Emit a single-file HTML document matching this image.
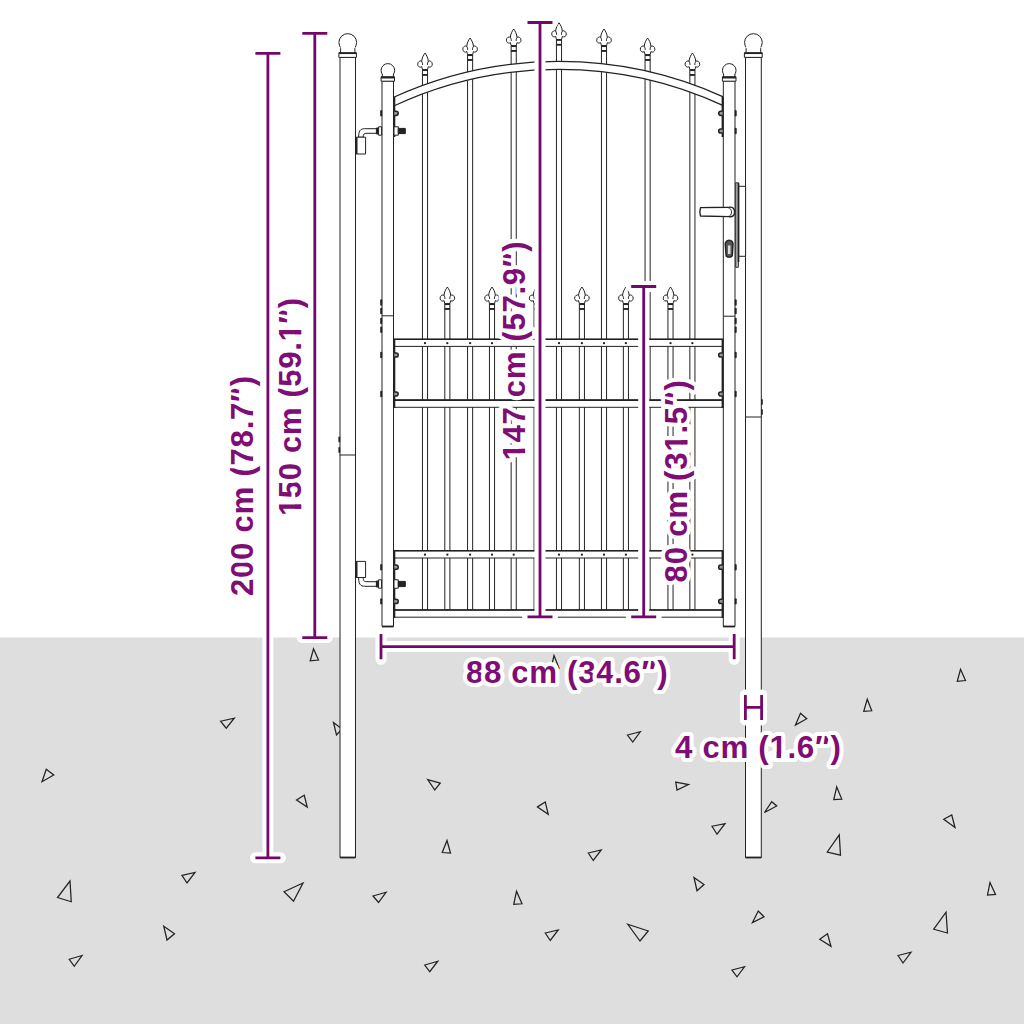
<!DOCTYPE html>
<html><head><meta charset="utf-8"><title>Gate dimensions</title>
<style>
html,body{margin:0;padding:0;background:#fff;}
body{width:1024px;height:1024px;overflow:hidden;font-family:"Liberation Sans",sans-serif;}
svg{display:block;}
</style></head><body>
<svg width="1024" height="1024" viewBox="0 0 1024 1024">
<rect x="0" y="0" width="1024" height="1024" fill="#fff"/>
<rect x="0" y="637.5" width="1024" height="386.5" fill="#dedede"/>
<g fill="none" stroke="#222" stroke-width="1.25" stroke-linejoin="miter"><polygon points="313.5,648.75 318.5,660 310.25,660.75"/><polygon points="220.5,721.25 234.25,718.25 226.25,728.25"/><polygon points="46.25,769.25 53.75,775 42,781.75"/><polygon points="333.5,722.5 342,729 336.5,735"/><polygon points="296.5,800 304.25,795.25 307.25,807"/><polygon points="427.75,779.6 440.25,783.2 434.75,790"/><polygon points="447,840.5 450.5,853 442.25,852.5"/><polygon points="182,875.3 195,872.5 187,883"/><polygon points="70,881 71.25,901.75 57.5,897.5"/><polygon points="284,891.75 303,883 293.5,901.25"/><polygon points="373,896 386,892.25 378.5,902.5"/><polygon points="163.75,926.25 174.5,933.75 167,940"/><polygon points="69.25,959.25 82,955.5 74.25,966.25"/><polygon points="424.75,965 437.75,961.25 429.75,971.75"/><polygon points="554,655.5 559,668 551,668"/><polygon points="960.5,669.25 965.5,680.5 957.25,681.25"/><polygon points="867.25,699.25 871.75,710.75 863.75,711.25"/><polygon points="795.5,725 800.5,713.25 806.75,718.75"/><polygon points="627.5,735 640.25,731.75 632.75,742"/><polygon points="675.75,782.1 688.5,784.6 677,790"/><polygon points="836.75,786.9 841.75,799.1 833.75,799.6"/><polygon points="537.5,806.9 545.25,801.9 548.25,814.25"/><polygon points="764.5,812.5 771.75,801.75 776.75,806"/><polygon points="943.75,819.25 951.75,815 955,827.5"/><polygon points="712,826.25 725,823.6 717,834.25"/><polygon points="839.25,834.9 840.5,855.2 827.25,852"/><polygon points="588.25,853 601.25,849.9 593.25,860.5"/><polygon points="694,877.5 704,884.5 697,890.75"/><polygon points="516.5,891.25 522,903.75 513.75,904.25"/><polygon points="990,882.5 995.5,894.4 987.5,895"/><polygon points="752.5,922.5 758.25,911 764,916.75"/><polygon points="946,912.25 947.5,933 933.75,929.25"/><polygon points="545.25,933 558.25,930 550.25,940.5"/><polygon points="627.75,924.25 648.25,931 640,941"/><polygon points="819.75,939.25 827.5,933.75 831,946.25"/><polygon points="898,955.5 911,952.25 903,963"/><polygon points="732,970 744.5,966.75 737,976.75"/></g>
<g fill="#fff" stroke="#222" stroke-width="1.0" stroke-linejoin="round" stroke-linecap="butt">
<rect x="340.0" y="57" width="15.5" height="800.5"/>
<line x1="340.0" y1="857.5" x2="355.5" y2="857.5" stroke-width="1.8"/>
<circle cx="347.75" cy="42.5" r="8.85"/>
<rect x="340.6" y="47" width="14.3" height="6" stroke="none"/>
<path d="M340.6,48.2 V52.8 M354.9,48.2 V52.8" fill="none"/>
<rect x="338.9" y="52.8" width="17.5" height="4.6"/>
<line x1="338.9" y1="53.2" x2="356.4" y2="53.2" stroke-width="1.7"/>
<rect x="745.5" y="57" width="15.799999999999955" height="800.5"/>
<line x1="745.5" y1="857.5" x2="761.3" y2="857.5" stroke-width="1.8"/>
<circle cx="753.4" cy="42.5" r="8.85"/>
<rect x="746.1" y="47" width="14.599999999999955" height="6" stroke="none"/>
<path d="M746.1,48.2 V52.8 M760.6999999999999,48.2 V52.8" fill="none"/>
<rect x="744.4" y="52.8" width="17.799999999999955" height="4.6"/>
<line x1="744.4" y1="53.2" x2="762.1999999999999" y2="53.2" stroke-width="1.7"/>
<line x1="339.7" y1="455" x2="355.6" y2="455"/>
<line x1="745.6" y1="417" x2="761.4" y2="417"/>
<line x1="339.3" y1="437.4" x2="339.3" y2="441.4" stroke-width="1.8" stroke-linecap="round"/>
<line x1="339.3" y1="448" x2="339.3" y2="452" stroke-width="1.8" stroke-linecap="round"/>
<line x1="761.9" y1="400" x2="761.9" y2="404" stroke-width="1.8" stroke-linecap="round"/>
<line x1="761.9" y1="410" x2="761.9" y2="414" stroke-width="1.8" stroke-linecap="round"/>
<rect x="422.45" y="75" width="5.1" height="535"/>
<path d="M425.0,53 C426.6,55.2 428.2,58.2 428.3,61.3 C429.5,60.3 432.3,61.4 432.3,64.2 C432.3,66.8 429.8,67.8 428.3,66.6 L427.55,69.7 L422.45,69.7 L421.7,66.6 C420.2,67.8 417.7,66.8 417.7,64.2 C417.7,61.4 420.5,60.3 421.7,61.3 C421.8,58.2 423.4,55.2 425.0,53 Z"/>
<path d="M428.3,61.3 C427.7,62.6 427.2,63.8 427.5,65" fill="none"/>
<path d="M421.7,61.3 C422.3,62.6 422.8,63.8 422.5,65" fill="none"/>
<rect x="422.45" y="69.7" width="5.1" height="5.3"/>
<line x1="422.45" y1="70.3" x2="427.55" y2="70.3" stroke-width="1.5"/>
<line x1="422.45" y1="74.8" x2="427.55" y2="74.8" stroke-width="1.5"/>
<rect x="467.55" y="60" width="5.1" height="550"/>
<path d="M470.1,38 C471.70000000000005,40.2 473.3,43.2 473.40000000000003,46.3 C474.6,45.3 477.40000000000003,46.4 477.40000000000003,49.2 C477.40000000000003,51.8 474.90000000000003,52.8 473.40000000000003,51.6 L472.65000000000003,54.7 L467.55,54.7 L466.8,51.6 C465.3,52.8 462.8,51.8 462.8,49.2 C462.8,46.4 465.6,45.3 466.8,46.3 C466.90000000000003,43.2 468.5,40.2 470.1,38 Z"/>
<path d="M473.40000000000003,46.3 C472.8,47.6 472.3,48.8 472.6,50" fill="none"/>
<path d="M466.8,46.3 C467.40000000000003,47.6 467.90000000000003,48.8 467.6,50" fill="none"/>
<rect x="467.55" y="54.7" width="5.1" height="5.3"/>
<line x1="467.55" y1="55.3" x2="472.65000000000003" y2="55.3" stroke-width="1.5"/>
<line x1="467.55" y1="59.8" x2="472.65000000000003" y2="59.8" stroke-width="1.5"/>
<rect x="511.15000000000003" y="51" width="5.1" height="559"/>
<path d="M513.7,29 C515.3000000000001,31.2 516.9000000000001,34.2 517.0,37.3 C518.2,36.3 521.0,37.4 521.0,40.2 C521.0,42.8 518.5,43.8 517.0,42.6 L516.25,45.7 L511.15000000000003,45.7 L510.40000000000003,42.6 C508.90000000000003,43.8 506.40000000000003,42.8 506.40000000000003,40.2 C506.40000000000003,37.4 509.20000000000005,36.3 510.40000000000003,37.3 C510.50000000000006,34.2 512.1,31.2 513.7,29 Z"/>
<path d="M517.0,37.3 C516.4000000000001,38.6 515.9000000000001,39.8 516.2,41" fill="none"/>
<path d="M510.40000000000003,37.3 C511.00000000000006,38.6 511.50000000000006,39.8 511.20000000000005,41" fill="none"/>
<rect x="511.15000000000003" y="45.7" width="5.1" height="5.3"/>
<line x1="511.15000000000003" y1="46.3" x2="516.25" y2="46.3" stroke-width="1.5"/>
<line x1="511.15000000000003" y1="50.8" x2="516.25" y2="50.8" stroke-width="1.5"/>
<rect x="556.45" y="44.8" width="5.1" height="565.2"/>
<path d="M559.0,22.8 C560.6,25.0 562.2,28.0 562.3,31.1 C563.5,30.1 566.3,31.200000000000003 566.3,34.0 C566.3,36.6 563.8,37.6 562.3,36.4 L561.55,39.5 L556.45,39.5 L555.7,36.4 C554.2,37.6 551.7,36.6 551.7,34.0 C551.7,31.200000000000003 554.5,30.1 555.7,31.1 C555.8,28.0 557.4,25.0 559.0,22.8 Z"/>
<path d="M562.3,31.1 C561.7,32.4 561.2,33.6 561.5,34.8" fill="none"/>
<path d="M555.7,31.1 C556.3,32.4 556.8,33.6 556.5,34.8" fill="none"/>
<rect x="556.45" y="39.5" width="5.1" height="5.3"/>
<line x1="556.45" y1="40.1" x2="561.55" y2="40.1" stroke-width="1.5"/>
<line x1="556.45" y1="44.6" x2="561.55" y2="44.6" stroke-width="1.5"/>
<rect x="601.45" y="51" width="5.1" height="559"/>
<path d="M604.0,29 C605.6,31.2 607.2,34.2 607.3,37.3 C608.5,36.3 611.3,37.4 611.3,40.2 C611.3,42.8 608.8,43.8 607.3,42.6 L606.55,45.7 L601.45,45.7 L600.7,42.6 C599.2,43.8 596.7,42.8 596.7,40.2 C596.7,37.4 599.5,36.3 600.7,37.3 C600.8,34.2 602.4,31.2 604.0,29 Z"/>
<path d="M607.3,37.3 C606.7,38.6 606.2,39.8 606.5,41" fill="none"/>
<path d="M600.7,37.3 C601.3,38.6 601.8,39.8 601.5,41" fill="none"/>
<rect x="601.45" y="45.7" width="5.1" height="5.3"/>
<line x1="601.45" y1="46.3" x2="606.55" y2="46.3" stroke-width="1.5"/>
<line x1="601.45" y1="50.8" x2="606.55" y2="50.8" stroke-width="1.5"/>
<rect x="645.0500000000001" y="60" width="5.1" height="550"/>
<path d="M647.6,38 C649.2,40.2 650.8000000000001,43.2 650.9,46.3 C652.1,45.3 654.9,46.4 654.9,49.2 C654.9,51.8 652.4,52.8 650.9,51.6 L650.15,54.7 L645.0500000000001,54.7 L644.3000000000001,51.6 C642.8000000000001,52.8 640.3000000000001,51.8 640.3000000000001,49.2 C640.3000000000001,46.4 643.1,45.3 644.3000000000001,46.3 C644.4,43.2 646.0,40.2 647.6,38 Z"/>
<path d="M650.9,46.3 C650.3000000000001,47.6 649.8000000000001,48.8 650.1,50" fill="none"/>
<path d="M644.3000000000001,46.3 C644.9,47.6 645.4,48.8 645.1,50" fill="none"/>
<rect x="645.0500000000001" y="54.7" width="5.1" height="5.3"/>
<line x1="645.0500000000001" y1="55.3" x2="650.15" y2="55.3" stroke-width="1.5"/>
<line x1="645.0500000000001" y1="59.8" x2="650.15" y2="59.8" stroke-width="1.5"/>
<rect x="689.85" y="75" width="5.1" height="535"/>
<path d="M692.4,53 C694.0,55.2 695.6,58.2 695.6999999999999,61.3 C696.9,60.3 699.6999999999999,61.4 699.6999999999999,64.2 C699.6999999999999,66.8 697.1999999999999,67.8 695.6999999999999,66.6 L694.9499999999999,69.7 L689.85,69.7 L689.1,66.6 C687.6,67.8 685.1,66.8 685.1,64.2 C685.1,61.4 687.9,60.3 689.1,61.3 C689.1999999999999,58.2 690.8,55.2 692.4,53 Z"/>
<path d="M695.6999999999999,61.3 C695.1,62.6 694.6,63.8 694.9,65" fill="none"/>
<path d="M689.1,61.3 C689.6999999999999,62.6 690.1999999999999,63.8 689.9,65" fill="none"/>
<rect x="689.85" y="69.7" width="5.1" height="5.3"/>
<line x1="689.85" y1="70.3" x2="694.9499999999999" y2="70.3" stroke-width="1.5"/>
<line x1="689.85" y1="74.8" x2="694.9499999999999" y2="74.8" stroke-width="1.5"/>
<rect x="444.8" y="309" width="5.1" height="301"/>
<path d="M447.35,287 C448.95000000000005,289.2 450.55,292.2 450.65000000000003,295.3 C451.85,294.3 454.65000000000003,295.4 454.65000000000003,298.2 C454.65000000000003,300.8 452.15000000000003,301.8 450.65000000000003,300.6 L449.90000000000003,303.7 L444.8,303.7 L444.05,300.6 C442.55,301.8 440.05,300.8 440.05,298.2 C440.05,295.4 442.85,294.3 444.05,295.3 C444.15000000000003,292.2 445.75,289.2 447.35,287 Z"/>
<path d="M450.65000000000003,295.3 C450.05,296.6 449.55,297.8 449.85,299" fill="none"/>
<path d="M444.05,295.3 C444.65000000000003,296.6 445.15000000000003,297.8 444.85,299" fill="none"/>
<rect x="444.8" y="303.7" width="5.1" height="5.3"/>
<line x1="444.8" y1="304.3" x2="449.90000000000003" y2="304.3" stroke-width="1.5"/>
<line x1="444.8" y1="308.8" x2="449.90000000000003" y2="308.8" stroke-width="1.5"/>
<rect x="489.45" y="309" width="5.1" height="301"/>
<path d="M492.0,287 C493.6,289.2 495.2,292.2 495.3,295.3 C496.5,294.3 499.3,295.4 499.3,298.2 C499.3,300.8 496.8,301.8 495.3,300.6 L494.55,303.7 L489.45,303.7 L488.7,300.6 C487.2,301.8 484.7,300.8 484.7,298.2 C484.7,295.4 487.5,294.3 488.7,295.3 C488.8,292.2 490.4,289.2 492.0,287 Z"/>
<path d="M495.3,295.3 C494.7,296.6 494.2,297.8 494.5,299" fill="none"/>
<path d="M488.7,295.3 C489.3,296.6 489.8,297.8 489.5,299" fill="none"/>
<rect x="489.45" y="303.7" width="5.1" height="5.3"/>
<line x1="489.45" y1="304.3" x2="494.55" y2="304.3" stroke-width="1.5"/>
<line x1="489.45" y1="308.8" x2="494.55" y2="308.8" stroke-width="1.5"/>
<rect x="534.0500000000001" y="309" width="5.1" height="301"/>
<path d="M536.6,287 C538.2,289.2 539.8000000000001,292.2 539.9,295.3 C541.1,294.3 543.9,295.4 543.9,298.2 C543.9,300.8 541.4,301.8 539.9,300.6 L539.15,303.7 L534.0500000000001,303.7 L533.3000000000001,300.6 C531.8000000000001,301.8 529.3000000000001,300.8 529.3000000000001,298.2 C529.3000000000001,295.4 532.1,294.3 533.3000000000001,295.3 C533.4,292.2 535.0,289.2 536.6,287 Z"/>
<path d="M539.9,295.3 C539.3000000000001,296.6 538.8000000000001,297.8 539.1,299" fill="none"/>
<path d="M533.3000000000001,295.3 C533.9,296.6 534.4,297.8 534.1,299" fill="none"/>
<rect x="534.0500000000001" y="303.7" width="5.1" height="5.3"/>
<line x1="534.0500000000001" y1="304.3" x2="539.15" y2="304.3" stroke-width="1.5"/>
<line x1="534.0500000000001" y1="308.8" x2="539.15" y2="308.8" stroke-width="1.5"/>
<rect x="579.35" y="309" width="5.1" height="301"/>
<path d="M581.9,287 C583.5,289.2 585.1,292.2 585.1999999999999,295.3 C586.4,294.3 589.1999999999999,295.4 589.1999999999999,298.2 C589.1999999999999,300.8 586.6999999999999,301.8 585.1999999999999,300.6 L584.4499999999999,303.7 L579.35,303.7 L578.6,300.6 C577.1,301.8 574.6,300.8 574.6,298.2 C574.6,295.4 577.4,294.3 578.6,295.3 C578.6999999999999,292.2 580.3,289.2 581.9,287 Z"/>
<path d="M585.1999999999999,295.3 C584.6,296.6 584.1,297.8 584.4,299" fill="none"/>
<path d="M578.6,295.3 C579.1999999999999,296.6 579.6999999999999,297.8 579.4,299" fill="none"/>
<rect x="579.35" y="303.7" width="5.1" height="5.3"/>
<line x1="579.35" y1="304.3" x2="584.4499999999999" y2="304.3" stroke-width="1.5"/>
<line x1="579.35" y1="308.8" x2="584.4499999999999" y2="308.8" stroke-width="1.5"/>
<rect x="623.35" y="309" width="5.1" height="301"/>
<path d="M625.9,287 C627.5,289.2 629.1,292.2 629.1999999999999,295.3 C630.4,294.3 633.1999999999999,295.4 633.1999999999999,298.2 C633.1999999999999,300.8 630.6999999999999,301.8 629.1999999999999,300.6 L628.4499999999999,303.7 L623.35,303.7 L622.6,300.6 C621.1,301.8 618.6,300.8 618.6,298.2 C618.6,295.4 621.4,294.3 622.6,295.3 C622.6999999999999,292.2 624.3,289.2 625.9,287 Z"/>
<path d="M629.1999999999999,295.3 C628.6,296.6 628.1,297.8 628.4,299" fill="none"/>
<path d="M622.6,295.3 C623.1999999999999,296.6 623.6999999999999,297.8 623.4,299" fill="none"/>
<rect x="623.35" y="303.7" width="5.1" height="5.3"/>
<line x1="623.35" y1="304.3" x2="628.4499999999999" y2="304.3" stroke-width="1.5"/>
<line x1="623.35" y1="308.8" x2="628.4499999999999" y2="308.8" stroke-width="1.5"/>
<rect x="667.95" y="309" width="5.1" height="301"/>
<path d="M670.5,287 C672.1,289.2 673.7,292.2 673.8,295.3 C675.0,294.3 677.8,295.4 677.8,298.2 C677.8,300.8 675.3,301.8 673.8,300.6 L673.05,303.7 L667.95,303.7 L667.2,300.6 C665.7,301.8 663.2,300.8 663.2,298.2 C663.2,295.4 666.0,294.3 667.2,295.3 C667.3,292.2 668.9,289.2 670.5,287 Z"/>
<path d="M673.8,295.3 C673.2,296.6 672.7,297.8 673.0,299" fill="none"/>
<path d="M667.2,295.3 C667.8,296.6 668.3,297.8 668.0,299" fill="none"/>
<rect x="667.95" y="303.7" width="5.1" height="5.3"/>
<line x1="667.95" y1="304.3" x2="673.05" y2="304.3" stroke-width="1.5"/>
<line x1="667.95" y1="308.8" x2="673.05" y2="308.8" stroke-width="1.5"/>
<path d="M393.7,97.3 A399,399 0 0 1 723.3,96.9 L723.3,105.6 A390.5,390.5 0 0 0 393.7,106 Z" stroke-width="1.25"/>
<rect x="393.8" y="339.3" width="328.99999999999994" height="7.099999999999966"/>
<line x1="393.8" y1="339.3" x2="722.8" y2="339.3" stroke-width="1.6"/>
<circle cx="425.0" cy="343.15000000000003" r="1.15" fill="#222" stroke="none"/>
<circle cx="470.1" cy="343.15000000000003" r="1.15" fill="#222" stroke="none"/>
<circle cx="513.7" cy="343.15000000000003" r="1.15" fill="#222" stroke="none"/>
<circle cx="559.0" cy="343.15000000000003" r="1.15" fill="#222" stroke="none"/>
<circle cx="604.0" cy="343.15000000000003" r="1.15" fill="#222" stroke="none"/>
<circle cx="647.6" cy="343.15000000000003" r="1.15" fill="#222" stroke="none"/>
<circle cx="692.4" cy="343.15000000000003" r="1.15" fill="#222" stroke="none"/>
<circle cx="447.35" cy="343.15000000000003" r="1.15" fill="#222" stroke="none"/>
<circle cx="492.0" cy="343.15000000000003" r="1.15" fill="#222" stroke="none"/>
<circle cx="536.6" cy="343.15000000000003" r="1.15" fill="#222" stroke="none"/>
<circle cx="581.9" cy="343.15000000000003" r="1.15" fill="#222" stroke="none"/>
<circle cx="625.9" cy="343.15000000000003" r="1.15" fill="#222" stroke="none"/>
<circle cx="670.5" cy="343.15000000000003" r="1.15" fill="#222" stroke="none"/>
<rect x="393.8" y="400.1" width="328.99999999999994" height="7.199999999999989"/>
<line x1="393.8" y1="400.1" x2="722.8" y2="400.1" stroke-width="1.6"/>
<rect x="393.8" y="550.7" width="328.99999999999994" height="7.2999999999999545"/>
<line x1="393.8" y1="550.7" x2="722.8" y2="550.7" stroke-width="1.6"/>
<circle cx="425.0" cy="554.65" r="1.15" fill="#222" stroke="none"/>
<circle cx="470.1" cy="554.65" r="1.15" fill="#222" stroke="none"/>
<circle cx="513.7" cy="554.65" r="1.15" fill="#222" stroke="none"/>
<circle cx="559.0" cy="554.65" r="1.15" fill="#222" stroke="none"/>
<circle cx="604.0" cy="554.65" r="1.15" fill="#222" stroke="none"/>
<circle cx="647.6" cy="554.65" r="1.15" fill="#222" stroke="none"/>
<circle cx="692.4" cy="554.65" r="1.15" fill="#222" stroke="none"/>
<circle cx="447.35" cy="554.65" r="1.15" fill="#222" stroke="none"/>
<circle cx="492.0" cy="554.65" r="1.15" fill="#222" stroke="none"/>
<circle cx="536.6" cy="554.65" r="1.15" fill="#222" stroke="none"/>
<circle cx="581.9" cy="554.65" r="1.15" fill="#222" stroke="none"/>
<circle cx="625.9" cy="554.65" r="1.15" fill="#222" stroke="none"/>
<circle cx="670.5" cy="554.65" r="1.15" fill="#222" stroke="none"/>
<rect x="393.8" y="610.0" width="328.99999999999994" height="7.2000000000000455"/>
<line x1="393.8" y1="610.0" x2="722.8" y2="610.0" stroke-width="1.6"/>
<rect x="382.0" y="81" width="11.5" height="545.5"/>
<line x1="382.0" y1="626.5" x2="393.5" y2="626.5" stroke-width="1.8"/>
<circle cx="387.85" cy="70.4" r="6.8"/>
<rect x="382.4" y="73.5" width="10.7" height="4" stroke="none"/>
<path d="M382.3,74 V77 M393.4,74 V77" fill="none"/>
<rect x="381.1" y="76.8" width="13.4" height="4.4"/>
<line x1="381.1" y1="77.5" x2="394.5" y2="77.5" stroke-width="2"/>
<line x1="382.0" y1="315.8" x2="393.5" y2="315.8"/>
<rect x="723.3" y="81" width="11.700000000000045" height="545.5"/>
<line x1="723.3" y1="626.5" x2="735.0" y2="626.5" stroke-width="1.8"/>
<circle cx="729.25" cy="70.4" r="6.8"/>
<rect x="723.6999999999999" y="73.5" width="10.900000000000045" height="4" stroke="none"/>
<path d="M723.5999999999999,74 V77 M734.9,74 V77" fill="none"/>
<rect x="722.4" y="76.8" width="13.600000000000046" height="4.4"/>
<line x1="722.4" y1="77.5" x2="736.0" y2="77.5" stroke-width="2"/>
<line x1="723.3" y1="316.2" x2="735.0" y2="316.2"/>
<line x1="394.3" y1="97" x2="394.3" y2="137" stroke-width="2"/>
<line x1="394.3" y1="339" x2="394.3" y2="408" stroke-width="2"/>
<line x1="394.3" y1="550.5" x2="394.3" y2="618" stroke-width="2"/>
<path d="M394.3,111.2 L396.1,111.2 A2.1,2.1 0 0 1 396.1,115.39999999999999 L394.3,115.39999999999999" stroke-width="1.5" fill="#999"/>
<path d="M394.3,352.9 L396.1,352.9 A2.1,2.1 0 0 1 396.1,357.1 L394.3,357.1" stroke-width="1.5" fill="#999"/>
<path d="M394.3,391.9 L396.1,391.9 A2.1,2.1 0 0 1 396.1,396.1 L394.3,396.1" stroke-width="1.5" fill="#999"/>
<path d="M394.3,565.1 L396.1,565.1 A2.1,2.1 0 0 1 396.1,569.3000000000001 L394.3,569.3000000000001" stroke-width="1.5" fill="#999"/>
<path d="M394.3,599.3 L396.1,599.3 A2.1,2.1 0 0 1 396.1,603.5 L394.3,603.5" stroke-width="1.5" fill="#999"/>
<line x1="722.6" y1="97" x2="722.6" y2="137" stroke-width="2"/>
<line x1="722.6" y1="339" x2="722.6" y2="408" stroke-width="2"/>
<line x1="722.6" y1="550.5" x2="722.6" y2="618" stroke-width="2"/>
<path d="M722.6,111.2 L720.8000000000001,111.2 A2.1,2.1 0 0 0 720.8000000000001,115.39999999999999 L722.6,115.39999999999999" stroke-width="1.5" fill="#999"/>
<path d="M722.6,128.9 L720.8000000000001,128.9 A2.1,2.1 0 0 0 720.8000000000001,133.1 L722.6,133.1" stroke-width="1.5" fill="#999"/>
<path d="M722.6,352.9 L720.8000000000001,352.9 A2.1,2.1 0 0 0 720.8000000000001,357.1 L722.6,357.1" stroke-width="1.5" fill="#999"/>
<path d="M722.6,391.9 L720.8000000000001,391.9 A2.1,2.1 0 0 0 720.8000000000001,396.1 L722.6,396.1" stroke-width="1.5" fill="#999"/>
<path d="M722.6,565.1 L720.8000000000001,565.1 A2.1,2.1 0 0 0 720.8000000000001,569.3000000000001 L722.6,569.3000000000001" stroke-width="1.5" fill="#999"/>
<path d="M722.6,599.3 L720.8000000000001,599.3 A2.1,2.1 0 0 0 720.8000000000001,603.5 L722.6,603.5" stroke-width="1.5" fill="#999"/>
<line x1="381.2" y1="111.1" x2="381.2" y2="115.5" stroke-width="2" stroke-linecap="round"/>
<line x1="381.2" y1="300.3" x2="381.2" y2="304.7" stroke-width="2" stroke-linecap="round"/>
<line x1="381.2" y1="308.8" x2="381.2" y2="313.2" stroke-width="2" stroke-linecap="round"/>
<line x1="381.2" y1="318.8" x2="381.2" y2="323.2" stroke-width="2" stroke-linecap="round"/>
<line x1="381.2" y1="327.5" x2="381.2" y2="331.9" stroke-width="2" stroke-linecap="round"/>
<line x1="381.2" y1="352.8" x2="381.2" y2="357.2" stroke-width="2" stroke-linecap="round"/>
<line x1="381.2" y1="391.8" x2="381.2" y2="396.2" stroke-width="2" stroke-linecap="round"/>
<line x1="381.2" y1="565.0" x2="381.2" y2="569.4000000000001" stroke-width="2" stroke-linecap="round"/>
<line x1="381.2" y1="599.1999999999999" x2="381.2" y2="603.6" stroke-width="2" stroke-linecap="round"/>
<line x1="735.7" y1="111.1" x2="735.7" y2="115.5" stroke-width="2" stroke-linecap="round"/>
<line x1="735.7" y1="128.8" x2="735.7" y2="133.2" stroke-width="2" stroke-linecap="round"/>
<line x1="735.7" y1="300.3" x2="735.7" y2="304.7" stroke-width="2" stroke-linecap="round"/>
<line x1="735.7" y1="308.8" x2="735.7" y2="313.2" stroke-width="2" stroke-linecap="round"/>
<line x1="735.7" y1="318.8" x2="735.7" y2="323.2" stroke-width="2" stroke-linecap="round"/>
<line x1="735.7" y1="327.5" x2="735.7" y2="331.9" stroke-width="2" stroke-linecap="round"/>
<line x1="735.7" y1="352.8" x2="735.7" y2="357.2" stroke-width="2" stroke-linecap="round"/>
<line x1="735.7" y1="391.8" x2="735.7" y2="396.2" stroke-width="2" stroke-linecap="round"/>
<line x1="735.7" y1="565.0" x2="735.7" y2="569.4000000000001" stroke-width="2" stroke-linecap="round"/>
<line x1="735.7" y1="599.1999999999999" x2="735.7" y2="603.6" stroke-width="2" stroke-linecap="round"/>
<path d="M358.6,137.2 C358.6,128.7 362,128.7 366,128.7 L377,128.7 L377,133.3 L367,133.3 C364,133.3 363.2,134 363.2,137.2 Z"/>
<rect x="356.2" y="137.2" width="9.4" height="16.80000000000001"/>
<line x1="356.4" y1="137.2" x2="356.4" y2="154" stroke-width="2.2"/>
<rect x="376.4" y="128" width="2.4" height="6" fill="#222"/>
<rect x="378.6" y="126.8" width="3" height="8.4"/>
<rect x="394" y="126.8" width="4.3" height="8.4"/>
<rect x="398.3" y="128.4" width="7" height="5.2" fill="#222"/>
<path d="M358.6,577.5 C358.6,586.3 362,586.3 366,586.3 L377,586.3 L377,581.7 L367,581.7 C364,581.7 363.2,581 363.2,577.5 Z"/>
<rect x="356.2" y="561.4" width="9.4" height="16.100000000000023"/>
<line x1="356.4" y1="561.4" x2="356.4" y2="577.5" stroke-width="2.2"/>
<rect x="376.4" y="581" width="2.4" height="6" fill="#222"/>
<rect x="378.6" y="579.8" width="3" height="8.4"/>
<rect x="394" y="579.8" width="4.3" height="8.4"/>
<rect x="398.3" y="581.4" width="7" height="5.2" fill="#222"/>
<rect x="738.6" y="186.3" width="7" height="70"/>
<rect x="735.7" y="182.8" width="2.7" height="84.5" fill="#bbb" stroke-width="0.9"/>
<line x1="738.5" y1="182.8" x2="738.5" y2="262" stroke-width="1.7"/>
<path d="M700.5,207.6 L729,207.2 C733,206.5 734.6,209 734.6,212 C734.6,215.5 732.5,217.3 729,216.6 L700.5,216 C699.6,213 699.6,210.5 700.5,207.6 Z" stroke-width="1.4"/>
<path d="M727,207.3 C730.5,208 731.5,210 731.5,212 C731.5,214.5 730.5,216 728,216.6" fill="none"/>
<path d="M725.3,244.6 A3.9,3.9 0 1 1 733,244.6 L732.4,255 A3,2 0 0 1 726,255 Z" fill="#555" stroke-width="1.4"/>
<rect x="727.9" y="245.5" width="2.6" height="8.5" fill="#ddd" stroke="none"/>
</g>
<path d="M255.39999999999998,53.3 H280.4 M267.9,53.3 V857.8 M255.39999999999998,857.8 H280.4" fill="none" stroke="#fff" stroke-width="11" stroke-linecap="round" stroke-linejoin="round"/>
<path d="M302.3,33.3 H327.3 M314.8,33.3 V637.6 M302.3,637.6 H327.3" fill="none" stroke="#fff" stroke-width="11" stroke-linecap="round" stroke-linejoin="round"/>
<path d="M527.5,22.5 H552.5 M540.0,22.5 V616.8 M527.5,616.8 H552.5" fill="none" stroke="#fff" stroke-width="11" stroke-linecap="round" stroke-linejoin="round"/>
<path d="M631.2,286.5 H656.2 M643.7,286.5 V616.8 M631.2,616.8 H656.2" fill="none" stroke="#fff" stroke-width="11" stroke-linecap="round" stroke-linejoin="round"/>
<path d="M381,633.9 V659.3000000000001 M381,646.6 H734.2 M734.2,633.9 V659.3000000000001" fill="none" stroke="#fff" stroke-width="11" stroke-linecap="round" stroke-linejoin="round"/>
<path d="M745.4,694.9 V719.9 M745.4,707.4 H761.6 M761.6,694.9 V719.9" fill="none" stroke="#fff" stroke-width="11" stroke-linecap="round" stroke-linejoin="round"/>
<path d="M255.39999999999998,53.3 H280.4 M267.9,53.3 V857.8 M255.39999999999998,857.8 H280.4" fill="none" stroke="#74086a" stroke-width="2.8"/>
<path d="M302.3,33.3 H327.3 M314.8,33.3 V637.6 M302.3,637.6 H327.3" fill="none" stroke="#74086a" stroke-width="2.8"/>
<path d="M527.5,22.5 H552.5 M540.0,22.5 V616.8 M527.5,616.8 H552.5" fill="none" stroke="#74086a" stroke-width="2.8"/>
<path d="M631.2,286.5 H656.2 M643.7,286.5 V616.8 M631.2,616.8 H656.2" fill="none" stroke="#74086a" stroke-width="2.8"/>
<path d="M381,633.9 V659.3000000000001 M381,646.6 H734.2 M734.2,633.9 V659.3000000000001" fill="none" stroke="#74086a" stroke-width="2.8"/>
<path d="M745.4,694.9 V719.9 M745.4,707.4 H761.6 M761.6,694.9 V719.9" fill="none" stroke="#74086a" stroke-width="2.8"/>
<g font-family="'Liberation Sans', sans-serif" font-weight="bold" fill="#800c76" stroke="#fff" stroke-width="8.2" stroke-linejoin="round" paint-order="stroke fill">
<text x="465.9" y="682.7" textLength="201.7" lengthAdjust="spacing" font-size="31.3">88 cm (34.6&#8243;)</text>
<text x="675.0" y="757.8" textLength="166" lengthAdjust="spacing" font-size="31.3">4 cm (1.6&#8243;)</text>
<text x="253.0" y="596.1" transform="rotate(-90 253.0 596.1)" textLength="220.3" lengthAdjust="spacing" font-size="31.3">200 cm (78.7&#8243;)</text>
<text x="301.2" y="516.1" transform="rotate(-90 301.2 516.1)" textLength="218.4" lengthAdjust="spacing" font-size="31.3">150 cm (59.1&#8243;)</text>
<text x="524.9" y="460.4" transform="rotate(-90 524.9 460.4)" textLength="219.2" lengthAdjust="spacing" font-size="31.3">147 cm (57.9&#8243;)</text>
<text x="687.5" y="582.4" transform="rotate(-90 687.5 582.4)" textLength="202.4" lengthAdjust="spacing" font-size="31.3">80 cm (31.5&#8243;)</text>
</g>
<g>
<rect x="769.99" y="753.21" width="6.73" height="5.99" fill="#fff"/>
<rect x="781.02" y="753.21" width="6.34" height="5.99" fill="#fff"/>
<rect x="776.73" y="751.61" width="4.29" height="6.19" fill="#800c76"/>
</g>
<g transform="rotate(-90 301.2 516.1)">
<rect x="301.77" y="511.51" width="6.73" height="5.99" fill="#fff"/>
<rect x="312.80" y="511.51" width="6.34" height="5.99" fill="#fff"/>
<rect x="308.50" y="509.91" width="4.29" height="6.19" fill="#800c76"/>
</g>
<g transform="rotate(-90 301.2 516.1)">
<rect x="476.29" y="511.51" width="6.73" height="5.99" fill="#fff"/>
<rect x="487.32" y="511.51" width="6.34" height="5.99" fill="#fff"/>
<rect x="483.02" y="509.91" width="4.29" height="6.19" fill="#800c76"/>
</g>
<g transform="rotate(-90 524.9 460.4)">
<rect x="525.47" y="455.81" width="6.73" height="5.99" fill="#fff"/>
<rect x="536.50" y="455.81" width="6.34" height="5.99" fill="#fff"/>
<rect x="532.20" y="454.21" width="4.29" height="6.19" fill="#800c76"/>
</g>
<g transform="rotate(-90 687.5 582.4)">
<rect x="818.80" y="577.81" width="6.73" height="5.99" fill="#fff"/>
<rect x="829.83" y="577.81" width="6.34" height="5.99" fill="#fff"/>
<rect x="825.54" y="576.21" width="4.29" height="6.19" fill="#800c76"/>
</g>
</svg>
</body></html>
